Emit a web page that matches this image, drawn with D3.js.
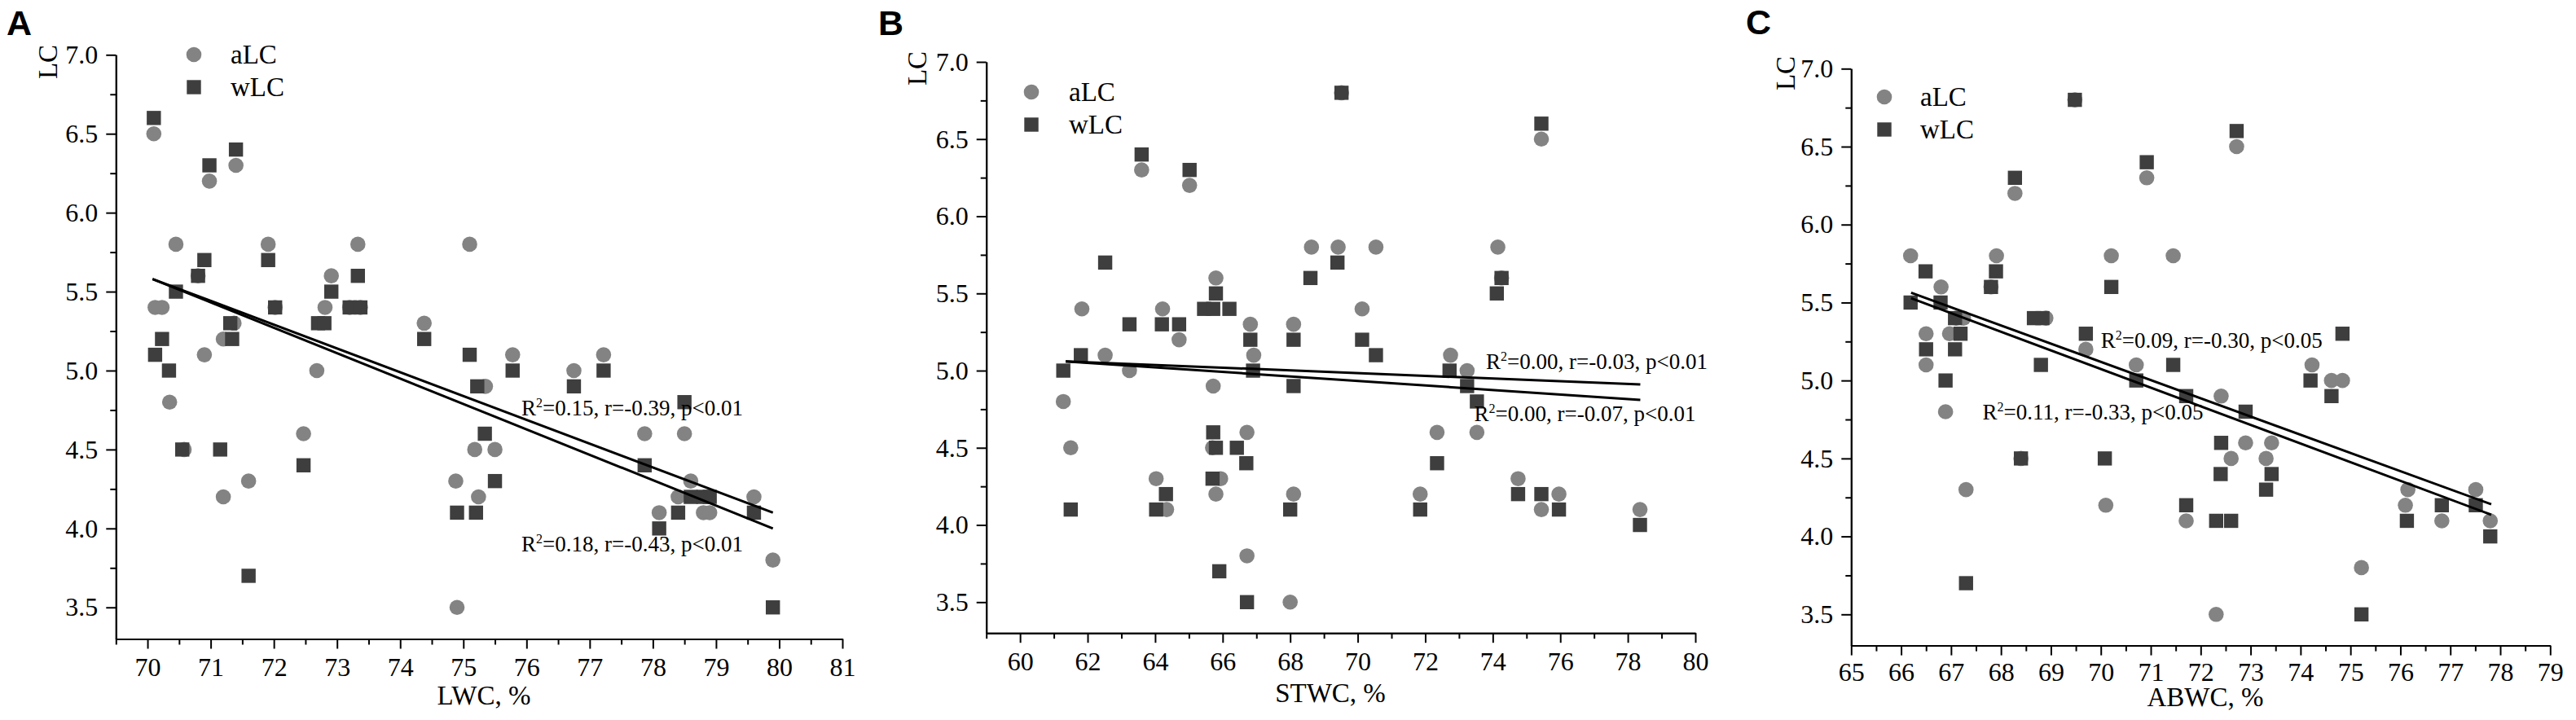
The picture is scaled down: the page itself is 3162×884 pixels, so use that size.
<!DOCTYPE html>
<html>
<head>
<meta charset="utf-8">
<script src="https://cdn.jsdelivr.net/npm/d3@7"></script>
<style>
  body { margin: 0; background: #fff; }
  text { font-family: "Liberation Serif", "Times New Roman", serif; fill: #000; }
  .panel-letter { font-family: "Liberation Sans", Arial, sans-serif; font-weight: bold; }
  .axis path, .axis line { stroke: #000; stroke-width: 2; }
</style>
</head>
<body>
<svg id="chart"></svg>
<script>
const width = 3162;
const height = 884;

// LC values shared by the three panels
const lcTicks = [3.5, 4.0, 4.5, 5.0, 5.5, 6.0, 6.5, 7.0];
const lcMinor = [3.75, 4.25, 4.75, 5.25, 5.75, 6.25, 6.75];

// Panel A: LWC, %
const lwcTicks = d3.range(70, 82, 1);
const lwcMinor = d3.range(69.5, 81, 1);
const aLC_lwc = [[70.1,6.5],[70.12,5.4],[70.23,5.4],[70.35,4.8],[70.45,5.8],[70.58,4.5],[70.8,5.6],[70.9,5.1],
  [70.98,6.2],[71.2,4.2],[71.2,5.2],[71.37,5.3],[71.4,6.3],[71.6,4.3],[71.91,5.8],[72.02,5.4],[72.47,4.6],
  [72.68,5.0],[72.81,5.4],[72.91,5.6],[73.2,5.4],[73.33,5.8],[73.37,5.4],[74.38,5.3],[74.88,4.3],[74.9,3.5],
  [75.1,5.8],[75.18,4.5],[75.24,4.2],[75.35,4.9],[75.5,4.5],[75.78,5.1],[76.75,5.0],[77.22,5.1],[77.87,4.6],
  [78.1,4.1],[78.4,4.2],[78.5,4.6],[78.6,4.3],[78.8,4.1],[78.9,4.1],[79.6,4.2],[79.9,3.8]];
const wLC_lwc = [[70.1,6.6],[70.12,5.1],[70.23,5.2],[70.34,5.0],[70.45,5.5],[70.55,4.5],[70.8,5.6],[70.9,5.7],
  [70.98,6.3],[71.15,4.5],[71.31,5.3],[71.34,5.2],[71.4,6.4],[71.6,3.7],[71.91,5.7],[72.02,5.4],[72.47,4.4],
  [72.7,5.3],[72.8,5.3],[72.91,5.5],[73.2,5.4],[73.33,5.6],[73.37,5.4],[74.38,5.2],[74.9,4.1],[75.1,5.1],
  [75.2,4.1],[75.22,4.9],[75.34,4.6],[75.5,4.3],[75.78,5.0],[76.75,4.9],[77.22,5.0],[77.87,4.4],[78.1,4.0],
  [78.4,4.1],[78.5,4.8],[78.6,4.2],[78.8,4.2],[78.9,4.2],[79.6,4.1],[79.9,3.5]];
const fit_lwc = [[70.08,5.58,79.9,4.10],[70.08,5.58,79.9,4.00]];
const notes_lwc = [
  { x: 75.92, y: 4.714, rest: "=0.15, r=-0.39, p<0.01" },
  { x: 75.92, y: 3.855, rest: "=0.18, r=-0.43, p<0.01" }
];

// Panel B: STWC, %
const stwcTicks = d3.range(60, 81, 2);
const stwcMinor = d3.range(59, 80, 2);
const aLC_stwc = [[61.28,4.8],[61.5,4.5],[61.83,5.4],[62.52,5.1],[63.24,5.0],[63.6,6.3],[64.03,4.3],[64.22,5.4],
  [64.34,4.1],[64.71,5.2],[65.02,6.2],[65.72,4.9],[65.7,4.5],[65.8,5.6],[65.8,4.2],[65.94,4.3],[66.72,4.6],
  [66.72,3.8],[66.82,5.3],[66.92,5.1],[68.0,3.5],[68.1,5.3],[68.1,4.2],[68.63,5.8],[69.42,5.8],[69.52,6.8],
  [70.13,5.4],[70.54,5.8],[71.85,4.2],[72.35,4.6],[72.75,5.1],[73.24,5.0],[73.53,4.6],[74.15,5.8],[74.26,5.6],
  [74.75,4.3],[75.44,6.5],[75.44,4.1],[75.96,4.2],[78.36,4.1]];
const wLC_stwc = [[61.28,5.0],[61.5,4.1],[61.8,5.1],[62.52,5.7],[63.24,5.3],[63.6,6.4],[64.03,4.1],[64.2,5.3],
  [64.32,4.2],[64.71,5.3],[65.02,6.3],[65.45,5.4],[65.72,5.4],[65.8,5.5],[65.72,4.6],[65.8,4.5],[65.7,4.3],
  [65.9,3.7],[66.2,5.4],[66.42,4.5],[66.7,4.4],[66.72,3.5],[66.82,5.2],[66.9,5.0],[68.0,4.1],[68.1,5.2],
  [68.1,4.9],[68.6,5.6],[69.4,5.7],[69.52,6.8],[70.13,5.2],[70.54,5.1],[71.85,4.1],[72.35,4.4],[72.72,5.0],
  [73.24,4.9],[73.53,4.8],[74.12,5.5],[74.26,5.6],[74.75,4.2],[75.44,6.6],[75.44,4.2],[75.96,4.1],[78.36,4.0]];
const fit_stwc = [[61.35,5.06,78.37,4.91],[61.35,5.06,78.37,4.81]];
const notes_stwc = [
  { x: 73.8, y: 5.01, rest: "=0.00, r=-0.03, p<0.01" },
  { x: 73.45, y: 4.673, rest: "=0.00, r=-0.07,  p<0.01" }
];

// Panel C: ABWC, %
const abwcTicks = d3.range(65, 80, 1);
const abwcMinor = d3.range(65.5, 79, 1);
const aLC_abwc = [[66.19,5.8],[66.5,5.3],[66.5,5.1],[66.8,5.6],[66.89,4.8],[66.97,5.3],[67.1,5.4],[67.25,5.4],
  [67.3,4.3],[67.8,5.6],[67.91,5.8],[68.28,6.2],[68.4,4.5],[68.9,5.4],[69.48,6.8],[69.7,5.2],[70.1,4.2],
  [70.21,5.8],[70.71,5.1],[70.92,6.3],[71.45,5.8],[71.71,4.1],[72.31,3.5],[72.41,4.9],[72.61,4.5],[72.72,6.5],
  [72.9,4.6],[73.31,4.5],[73.42,4.6],[74.23,5.1],[74.62,5.0],[74.84,5.0],[75.22,3.8],[76.1,4.2],[76.15,4.3],
  [76.83,4.1],[77.51,4.3],[77.8,4.1]];
const wLC_abwc = [[66.19,5.5],[66.49,5.7],[66.5,5.2],[66.79,5.5],[66.89,5.0],[67.08,5.4],[67.08,5.2],[67.19,5.3],
  [67.3,3.7],[67.8,5.6],[67.9,5.7],[68.28,6.3],[68.4,4.5],[68.66,5.4],[68.83,5.4],[68.8,5.1],[69.48,6.8],
  [69.7,5.3],[70.08,4.5],[70.21,5.6],[70.71,5.0],[70.92,6.4],[71.45,5.1],[71.71,4.2],[71.71,4.9],[72.31,4.1],
  [72.41,4.6],[72.4,4.4],[72.61,4.1],[72.72,6.6],[72.9,4.8],[73.31,4.3],[73.42,4.4],[74.2,5.0],[74.62,4.9],
  [74.84,5.3],[75.22,3.5],[76.13,4.1],[76.83,4.2],[77.51,4.2],[77.8,4.0]];
const fit_abwc = [[66.2,5.563,77.82,4.206],[66.2,5.528,77.82,4.139]];
const notes_abwc = [
  { x: 70.0, y: 5.21, rest: "=0.09, r=-0.30, p<0.05" },
  { x: 67.63, y: 4.748, rest: "=0.11, r=-0.33, p<0.05" }
];

const circleColor = "#838383";
const squareColor = "#3e3e3e";

// layout of each panel in page pixels
const panels = [
  { letter: "A", letterX: 8, letterY: 43, title: "LWC, %", titleX: 594, titleY: 865, pad: 11,
    left: 142.3, right: 1034, top: 67.3, bottom: 784.5, domain: [69.5, 81],
    ticks: lwcTicks, minor: lwcMinor, a: aLC_lwc, w: wLC_lwc, fits: fit_lwc, notes: notes_lwc,
    lcX: 70, lcY: 76, legX: 238, legY: 67, legTextX: 283 },
  { letter: "B", letterX: 1078, letterY: 43, title: "STWC, %", titleX: 1633, titleY: 862, pad: 11,
    left: 1210.7, right: 2081, top: 76, bottom: 777.2, domain: [59, 80],
    ticks: stwcTicks, minor: stwcMinor, a: aLC_stwc, w: wLC_stwc, fits: fit_stwc, notes: notes_stwc,
    lcX: 1137, lcY: 84, legX: 1266, legY: 113, legTextX: 1312 },
  { letter: "C", letterX: 2143, letterY: 42, title: "ABWC, %", titleX: 2707, titleY: 867, pad: 9,
    left: 2272.3, right: 3130.3, top: 84.3, bottom: 792.6, domain: [65, 79],
    ticks: abwcTicks, minor: abwcMinor, a: aLC_abwc, w: wLC_abwc, fits: fit_abwc, notes: notes_abwc,
    lcX: 2203, lcY: 90, legX: 2313, legY: 119, legTextX: 2357 }
];

const svg = d3.select("#chart")
    .attr("width", width)
    .attr("height", height)
    .attr("viewBox", `0 0 ${width} ${height}`);

svg.append("rect").attr("width", width).attr("height", height).attr("fill", "#fff");

panels.forEach(p => {
    const x = d3.scaleLinear().domain(p.domain).range([p.left, p.right]);
    const y = d3.scaleLinear().domain([3.3, 7.0]).range([p.bottom, p.top]);
    const g = svg.append("g");

    // minor ticks first, then the labelled axes over them
    g.append("g")
        .attr("class", "axis")
        .attr("transform", `translate(${p.left},0)`)
        .call(d3.axisLeft(y).tickValues(lcMinor).tickSize(7).tickSizeOuter(0).tickFormat(""));

    g.append("g")
        .attr("class", "axis")
        .attr("transform", `translate(0,${p.bottom})`)
        .call(d3.axisBottom(x).tickValues(p.minor).tickSize(7).tickSizeOuter(0).tickFormat(""));

    g.append("g")
        .attr("class", "axis")
        .attr("transform", `translate(${p.left},0)`)
        .call(d3.axisLeft(y).tickValues(lcTicks).tickSize(12).tickSizeOuter(0)
            .tickPadding(10).tickFormat(d3.format(".1f")))
        .selectAll("text")
        .style("font-size", "32px");

    g.append("g")
        .attr("class", "axis")
        .attr("transform", `translate(0,${p.bottom})`)
        .call(d3.axisBottom(x).tickValues(p.ticks).tickSize(12).tickSizeOuter(0)
            .tickPadding(p.pad).tickFormat(d3.format("d")))
        .selectAll("text")
        .style("font-size", "32px");

    g.selectAll(".axis text").attr("fill", "#000");

    // axis titles
    g.append("text")
        .attr("x", p.titleX)
        .attr("y", p.titleY)
        .attr("text-anchor", "middle")
        .style("font-size", "33px")
        .text(p.title);

    g.append("text")
        .attr("transform", `translate(${p.lcX},${p.lcY}) rotate(-90)`)
        .attr("text-anchor", "middle")
        .style("font-size", "33px")
        .text("LC");

    g.append("text")
        .attr("class", "panel-letter")
        .attr("x", p.letterX)
        .attr("y", p.letterY)
        .style("font-size", "43px")
        .text(p.letter);

    // points: aLC circles under wLC squares
    g.selectAll(".dotA")
        .data(p.a)
        .join("circle")
        .attr("class", "dotA")
        .attr("cx", d => x(d[0]))
        .attr("cy", d => y(d[1]))
        .attr("r", 9.3)
        .attr("fill", circleColor);

    g.selectAll(".dotW")
        .data(p.w)
        .join("rect")
        .attr("class", "dotW")
        .attr("x", d => x(d[0]) - 8.7)
        .attr("y", d => y(d[1]) - 8.7)
        .attr("width", 17.4)
        .attr("height", 17.4)
        .attr("fill", squareColor);

    // regression lines
    g.selectAll(".fit")
        .data(p.fits)
        .join("line")
        .attr("class", "fit")
        .attr("x1", d => x(d[0]))
        .attr("y1", d => y(d[1]))
        .attr("x2", d => x(d[2]))
        .attr("y2", d => y(d[3]))
        .attr("stroke", "#000")
        .attr("stroke-width", 3);

    // fit statistics
    p.notes.forEach(n => {
        const t = g.append("text")
            .attr("x", x(n.x))
            .attr("y", y(n.y))
            .style("font-size", "27px");
        t.append("tspan").text("R");
        t.append("tspan").attr("dy", -10).style("font-size", "16px").text("2");
        t.append("tspan").attr("dy", 10).text(n.rest);
    });

    // legend
    const leg = g.append("g");
    leg.append("circle")
        .attr("cx", p.legX).attr("cy", p.legY).attr("r", 9.3)
        .attr("fill", circleColor);
    leg.append("text")
        .attr("x", p.legTextX).attr("y", p.legY + 11)
        .style("font-size", "33px")
        .text("aLC");
    leg.append("rect")
        .attr("x", p.legX - 8.7).attr("y", p.legY + 40 - 8.7)
        .attr("width", 17.4).attr("height", 17.4)
        .attr("fill", squareColor);
    leg.append("text")
        .attr("x", p.legTextX).attr("y", p.legY + 51)
        .style("font-size", "33px")
        .text("wLC");
});
</script>
</body>
</html>
